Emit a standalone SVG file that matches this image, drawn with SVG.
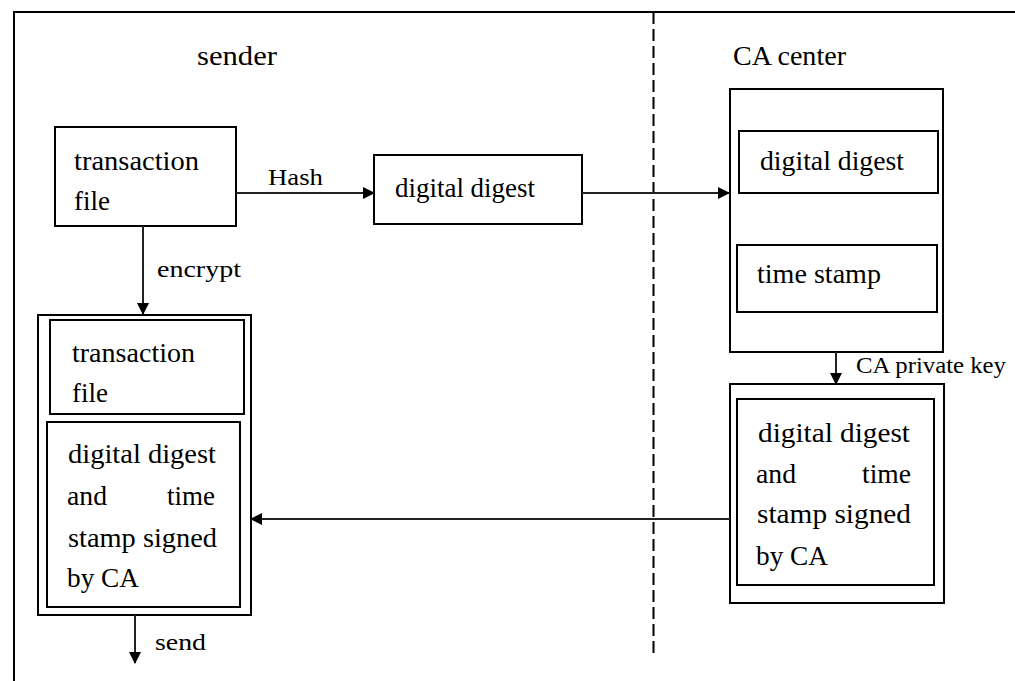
<svg xmlns="http://www.w3.org/2000/svg" width="1015" height="681" viewBox="0 0 1015 681">
  <style>
    text { font-family: "Liberation Serif", "Times New Roman", serif; font-size: 27px; fill: #000; }
    .box { fill: #fff; stroke: #000; stroke-width: 2; }
    .frame { fill: none; stroke: #000; stroke-width: 2; }
    .conn { fill: none; stroke: #222; stroke-width: 2; }
    .lbl { font-size: 24px; }
  </style>
  <defs>
    <marker id="arrow" viewBox="0 0 12 12" refX="11" refY="6" markerWidth="12" markerHeight="12" markerUnits="userSpaceOnUse" orient="auto">
      <path d="M0,0 L12,6 L0,12 Z" fill="#000"/>
    </marker>
  </defs>

  <rect width="1015" height="681" fill="#fff"/>

  <!-- page frame and the sender / CA boundary -->
  <g id="frame">
    <path class="frame" d="M14,681 V12 H1015"/>
    <line x1="653.5" y1="12" x2="653.5" y2="654" stroke="#000" stroke-width="2" stroke-dasharray="12,5"/>
  </g>

  <!-- section titles -->
  <g id="titles">
    <text x="197" y="65" textLength="80" lengthAdjust="spacingAndGlyphs">sender</text>
    <text x="733" y="65" textLength="113" lengthAdjust="spacingAndGlyphs">CA center</text>
  </g>

  <!-- sender side -->
  <g id="transaction-file">
    <rect class="box" x="55" y="127" width="181" height="99"/>
    <text x="74" y="170" textLength="125" lengthAdjust="spacingAndGlyphs">transaction</text>
    <text x="74" y="210" textLength="36" lengthAdjust="spacingAndGlyphs">file</text>
  </g>

  <g id="digest">
    <rect class="box" x="374" y="155" width="208" height="69"/>
    <text x="395" y="197" textLength="140" lengthAdjust="spacingAndGlyphs">digital digest</text>
  </g>

  <g id="package">
    <rect class="box" x="38" y="315" width="213" height="300"/>
    <g id="package-file">
      <rect class="box" x="50" y="320" width="194" height="94"/>
      <text x="72" y="362" textLength="123" lengthAdjust="spacingAndGlyphs">transaction</text>
      <text x="72" y="402" textLength="36" lengthAdjust="spacingAndGlyphs">file</text>
    </g>
    <g id="package-signed">
      <rect class="box" x="47" y="422" width="193" height="185"/>
      <text x="68" y="463" textLength="148" lengthAdjust="spacingAndGlyphs">digital  digest</text>
      <text x="67" y="505" textLength="40" lengthAdjust="spacingAndGlyphs">and</text>
      <text x="167" y="505" textLength="48" lengthAdjust="spacingAndGlyphs">time</text>
      <text x="68" y="547" textLength="149" lengthAdjust="spacingAndGlyphs">stamp  signed</text>
      <text x="67" y="587" textLength="72" lengthAdjust="spacingAndGlyphs">by CA</text>
    </g>
  </g>

  <!-- CA side -->
  <g id="ca-input">
    <rect class="box" x="730" y="89" width="213" height="263"/>
    <g id="ca-digest">
      <rect class="box" x="739" y="131" width="199" height="62"/>
      <text x="760" y="170" textLength="144" lengthAdjust="spacingAndGlyphs">digital digest</text>
    </g>
    <g id="ca-timestamp">
      <rect class="box" x="737" y="245" width="200" height="67"/>
      <text x="757" y="283" textLength="124" lengthAdjust="spacingAndGlyphs">time stamp</text>
    </g>
  </g>

  <g id="ca-signed">
    <rect class="box" x="730" y="384" width="214" height="219"/>
    <rect class="box" x="737" y="399" width="197" height="186"/>
    <text x="758" y="442" textLength="152" lengthAdjust="spacingAndGlyphs">digital  digest</text>
    <text x="756" y="483" textLength="40" lengthAdjust="spacingAndGlyphs">and</text>
    <text x="862" y="483" textLength="49" lengthAdjust="spacingAndGlyphs">time</text>
    <text x="757" y="523" textLength="154" lengthAdjust="spacingAndGlyphs">stamp  signed</text>
    <text x="756" y="565" textLength="72" lengthAdjust="spacingAndGlyphs">by CA</text>
  </g>

  <!-- connectors -->
  <g id="connectors">
    <line class="conn" x1="236" y1="193" x2="374" y2="193" marker-end="url(#arrow)"/>
    <line class="conn" x1="582" y1="193" x2="729" y2="193" marker-end="url(#arrow)"/>
    <line class="conn" x1="143" y1="226" x2="143" y2="314" marker-end="url(#arrow)"/>
    <line class="conn" x1="836" y1="352" x2="836" y2="384" marker-end="url(#arrow)"/>
    <line class="conn" x1="730" y1="519" x2="251" y2="519" marker-end="url(#arrow)"/>
    <line class="conn" x1="135" y1="615" x2="135" y2="663" marker-end="url(#arrow)"/>
  </g>

  <!-- connector labels -->
  <g id="connector-labels">
    <text class="lbl" x="268" y="185" textLength="55" lengthAdjust="spacingAndGlyphs">Hash</text>
    <text class="lbl" x="157" y="277" textLength="84" lengthAdjust="spacingAndGlyphs">encrypt</text>
    <text class="lbl" x="856" y="373" textLength="150" lengthAdjust="spacingAndGlyphs">CA private key</text>
    <text class="lbl" x="155" y="650" textLength="51" lengthAdjust="spacingAndGlyphs">send</text>
  </g>
</svg>
